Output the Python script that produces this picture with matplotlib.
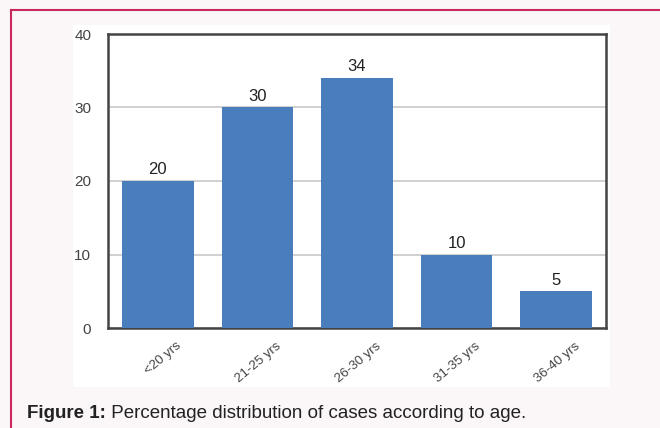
import matplotlib.pyplot as plt
from matplotlib.patches import Rectangle
from matplotlib.lines import Line2D

plt.rcParams['font.family'] = ['Liberation Sans', 'DejaVu Sans']

# data
ages = ['<20 yrs', '21-25 yrs', '26-30 yrs', '31-35 yrs', '36-40 yrs']
percent = [20, 30, 34, 10, 5]
yticks = [0, 10, 20, 30, 40]

fig = plt.figure(figsize=(6.6, 4.28), dpi=100)
fig.patch.set_facecolor('#fbf6f8')

# white panel behind the chart
fig.add_artist(Rectangle((0.1106, 0.0958), 0.8136, 0.8458, transform=fig.transFigure,
                         facecolor='white', edgecolor='none', zorder=0))
# pink frame lines (top and left)
fig.add_artist(Line2D([11/660, 1], [1-10/428, 1-10/428], transform=fig.transFigure,
                      color='#c8285a', lw=1.5))
fig.add_artist(Line2D([11/660, 11/660], [0, 1-10/428], transform=fig.transFigure,
                      color='#c8285a', lw=1.5))

ax = fig.add_axes([108/660, 1-328/428, 498/660, 294/428])
ax.set_facecolor('white')
x = range(len(ages))
bars = ax.bar(x, percent, width=0.72, color='#4a7dbc', zorder=3)
for xi, v in zip(x, percent):
    ax.text(xi, v + 0.5, str(v), ha='center', va='bottom', fontsize=12, color='#222222')

ax.set_xlim(-0.5, len(ages) - 0.5)
ax.set_ylim(0, 40)
ax.set_yticks(yticks)
ax.set_yticklabels([str(t) for t in yticks], fontsize=11, color='#444444')
ax.set_xticks(list(x))
ax.set_xticklabels([])
# rotated category labels, right end sitting a bit right of the bar centre
for xi, lab in zip(x, ages):
    ax.annotate(lab, xy=(xi, 0), xycoords=('data', 'axes fraction'),
                xytext=(16, -12), textcoords='offset points',
                rotation=40, ha='right', va='center', rotation_mode='anchor',
                fontsize=9.5, color='#444444', annotation_clip=False)
ax.tick_params(axis='both', length=0)
ax.tick_params(axis='y', pad=12)
ax.yaxis.grid(True, color='#c8c8c8', lw=1.2, zorder=0)
for s in ax.spines.values():
    s.set_color('#444444')
    s.set_linewidth(1.8)

t1 = fig.text(27/660, 1-418/428, 'Figure 1:', fontsize=13.5, fontweight='bold',
              va='baseline', color='#222222')
ax.annotate(' Percentage distribution of cases according to age.', xy=(1, 0),
            xycoords=t1, va='bottom', ha='left', fontsize=13.5, color='#222222',
            annotation_clip=False)

fig.savefig('out.png', dpi=100, facecolor=fig.get_facecolor())
